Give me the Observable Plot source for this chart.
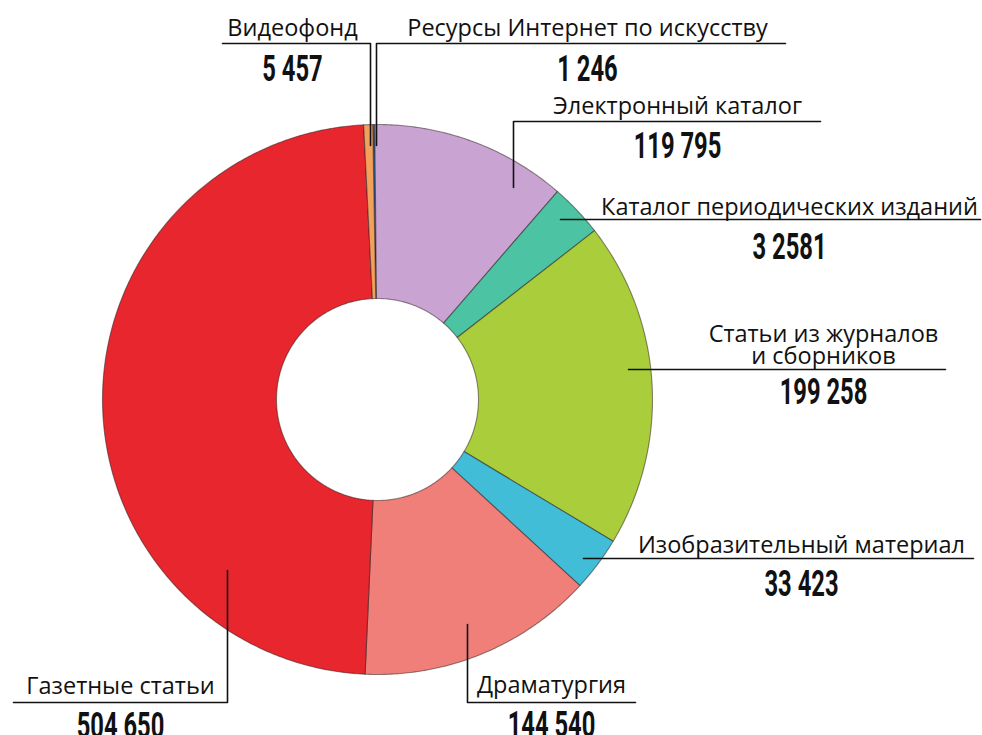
<!DOCTYPE html>
<html><head><meta charset="utf-8">
<script src="https://cdn.jsdelivr.net/npm/d3@7"></script>
<script src="https://cdn.jsdelivr.net/npm/@observablehq/plot@0.6"></script>
<style>
html,body{margin:0;padding:0;background:#fff;}
#chart{width:982px;height:735px;overflow:hidden;}
</style></head><body><div id="chart"></div>
<script>
// ---- data ----
const categories = [
  "Ресурсы Интернет по искусству",
  "Электронный каталог",
  "Каталог периодических изданий",
  "Статьи из журналов\nи сборников",
  "Изобразительный материал",
  "Драматургия",
  "Газетные статьи",
  "Видеофонд"
];
const values = [1246, 119795, 32581, 199258, 33423, 144540, 504650, 5457];
const valueLabels = ["1 246", "119 795", "3 2581", "199 258", "33 423", "144 540", "504 650", "5 457"];
const colors = ["#2f6aa3", "#c9a3d2", "#4cc3a3", "#a9cd3b", "#41bdd7", "#f07f79", "#e8262d", "#f2a05b"];

// ---- layout (annotation placement only) ----
const W = 982, H = 735, cx = 377, cy = 399, R = 275, r0 = 101;
const start = -1 * Math.PI / 180;
const labelLayout = [
  {x: 587, y: 35,  ny: 80,  line: [[785, 43], [376, 43], [376, 145]]},
  {x: 677, y: 113, ny: 157, line: [[820, 121], [513, 121], [513, 187]]},
  {x: 789, y: 214, ny: 258, line: [[980, 219], [560, 219]]},
  {x: 823, y: 363, ny: 403, line: [[945, 369], [628, 369]]},
  {x: 801, y: 552, ny: 595, line: [[973, 558], [583, 558]]},
  {x: 551, y: 692, ny: 736, line: [[635, 702], [467, 702], [467, 624]]},
  {x: 120, y: 693, ny: 737, line: [[13, 702], [227, 702], [227, 570]]},
  {x: 292, y: 35,  ny: 80,  line: [[222, 43], [370, 43], [370, 145]]}
];

// ---- slices computed from values ----
const arcs = d3.pie().sort(null).value(d => d).startAngle(start).endAngle(start + 2 * Math.PI)(values);
const slices = arcs.map((a, i) => {
  const pts = [];
  const n = Math.max(2, Math.ceil((a.endAngle - a.startAngle) / (Math.PI / 360)));
  for (let k = 0; k <= n; k++) {
    const t = a.startAngle + (a.endAngle - a.startAngle) * k / n;
    pts.push({x: cx + R * Math.sin(t), y: cy - R * Math.cos(t)});
  }
  for (let k = n; k >= 0; k--) {
    const t = a.startAngle + (a.endAngle - a.startAngle) * k / n;
    pts.push({x: cx + r0 * Math.sin(t), y: cy - r0 * Math.cos(t)});
  }
  return {pts, color: colors[i]};
});

const leaders = labelLayout.flatMap((l, i) => l.line.map(([x, y]) => ({i, x, y})));
const nameRows = categories.map((c, i) => ({c, x: labelLayout[i].x, y: labelLayout[i].y}));
const numRows = valueLabels.map((v, i) => ({v, x: labelLayout[i].x, y: labelLayout[i].ny}));

const plot = Plot.plot({
  width: W, height: H, margin: 0,
  x: {domain: [0, W], range: [0, W], axis: null},
  y: {domain: [0, H], range: [0, H], axis: null},
  style: {background: "#fff", overflow: "hidden"},
  marks: [
    ...slices.map(s => Plot.line(s.pts, {
      x: "x", y: "y", curve: "linear-closed",
      fill: s.color, stroke: "#2a1a1a", strokeOpacity: 0.5, strokeWidth: 1.1
    })),
    Plot.line(leaders, {x: "x", y: "y", z: "i", stroke: "#111", strokeWidth: 1.6, curve: "linear"}),
    Plot.text(nameRows, {
      x: "x", y: "y", text: "c", textAnchor: "middle", lineAnchor: "bottom",
      lineHeight: 0.92, fontSize: 23.5, fontFamily: "Open Sans", fill: "#111"
    }),
    Plot.text(numRows, {
      x: "x", y: "y", text: "v", textAnchor: "middle", lineAnchor: "bottom",
      fontSize: 36, fontWeight: 700, fontFamily: "Roboto", fill: "#111"
    })
  ]
});

// condense the bold number labels horizontally
plot.querySelectorAll('g[font-weight="700"] text').forEach(t => {
  let x = 0, y = 0;
  const ax = t.getAttribute("x"), ay = t.getAttribute("y");
  if (ax && !/em$/.test(ax)) { x = parseFloat(ax) || 0; t.removeAttribute("x"); }
  if (ay && !/em$/.test(ay)) { y = parseFloat(ay) || 0; t.removeAttribute("y"); }
  const tr = t.getAttribute("transform") || "";
  t.setAttribute("transform", `${tr} translate(${x},${y}) scale(0.66,1)`);
});

document.getElementById("chart").appendChild(plot);
</script>
</body></html>
